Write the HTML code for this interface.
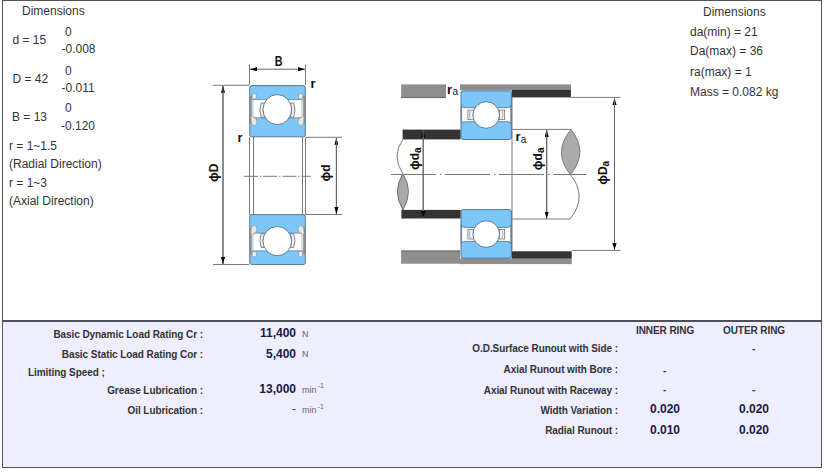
<!DOCTYPE html>
<html><head><meta charset="utf-8">
<style>
html,body{margin:0;padding:0;background:#fff;width:827px;height:472px;overflow:hidden}
body{position:relative;font-family:"Liberation Sans",sans-serif;color:#333}
.t{position:absolute;white-space:pre;line-height:1}
.s12{font-size:12px}
.b10{font-size:10px;font-weight:bold;letter-spacing:-0.07px}
.v{font-size:12px;font-weight:bold;color:#1a1a48}
.u{font-size:9px;color:#666}
#box{position:absolute;left:2px;top:0;width:818px;height:466px;border:1px solid #545458}
#div{position:absolute;left:2px;top:320px;width:820px;height:2px;background:#50505a}
#lav{position:absolute;left:3px;top:322px;width:818px;height:145px;background:#eeeeff}
</style></head><body>
<div id="box"></div>
<div id="lav"></div>
<div id="div"></div>

<!-- left dimensions -->
<div class="t s12" style="left:22px;top:5px">Dimensions</div>
<div class="t s12" style="left:65px;top:25.5px">0</div>
<div class="t s12" style="left:12.5px;top:33.7px">d = 15</div>
<div class="t s12" style="left:61.5px;top:43px">-0.008</div>
<div class="t s12" style="left:65px;top:65px">0</div>
<div class="t s12" style="left:12.5px;top:73px">D = 42</div>
<div class="t s12" style="left:61.5px;top:82px">-0.011</div>
<div class="t s12" style="left:65px;top:102px">0</div>
<div class="t s12" style="left:12px;top:111px">B = 13</div>
<div class="t s12" style="left:61px;top:120px">-0.120</div>
<div class="t s12" style="left:9px;top:140px">r = 1~1.5</div>
<div class="t s12" style="left:9px;top:158px">(Radial Direction)</div>
<div class="t s12" style="left:9px;top:177px">r = 1~3</div>
<div class="t s12" style="left:9px;top:195px">(Axial Direction)</div>

<!-- right dimensions -->
<div class="t s12" style="left:703px;top:5.5px">Dimensions</div>
<div class="t s12" style="left:690px;top:25.5px">da(min) = 21</div>
<div class="t s12" style="left:690px;top:45px">Da(max) = 36</div>
<div class="t s12" style="left:690px;top:65.5px">ra(max) = 1</div>
<div class="t s12" style="left:690px;top:85.6px">Mass = 0.082 kg</div>

<!-- bottom left table -->
<div class="t b10" style="right:624px;top:330px">Basic Dynamic Load Rating Cr :</div>
<div class="t b10" style="right:624px;top:349.5px">Basic Static Load Rating Cor :</div>
<div class="t b10" style="left:28px;top:368px">Limiting Speed ;</div>
<div class="t b10" style="right:624px;top:386px">Grease Lubrication :</div>
<div class="t b10" style="right:624px;top:406px">Oil Lubrication :</div>

<div class="t v" style="right:531px;top:327px">11,400</div>
<div class="t u" style="left:302px;top:329.5px">N</div>
<div class="t v" style="right:531px;top:347.5px">5,400</div>
<div class="t u" style="left:302px;top:349.5px">N</div>
<div class="t v" style="right:531px;top:382.5px">13,000</div>
<div class="t u" style="left:302px;top:385.7px">min<span style="font-size:7px;position:relative;top:-4.5px;margin-left:1.2px">-1</span></div>
<div class="t v" style="right:531px;top:403px;font-weight:normal;color:#333">-</div>
<div class="t u" style="left:302px;top:406.2px">min<span style="font-size:7px;position:relative;top:-4.5px;margin-left:1.2px">-1</span></div>

<!-- bottom right table -->
<div class="t b10" style="left:636px;top:326px">INNER RING</div>
<div class="t b10" style="left:723px;top:326px">OUTER RING</div>
<div class="t b10" style="right:209px;top:344px">O.D.Surface Runout with Side :</div>
<div class="t b10" style="right:209px;top:364.5px">Axial Runout with Bore :</div>
<div class="t b10" style="right:209px;top:385.5px">Axial Runout with Raceway :</div>
<div class="t b10" style="right:209px;top:405.5px">Width Variation :</div>
<div class="t b10" style="right:209px;top:425.5px">Radial Runout :</div>

<div class="t b10" style="left:752px;top:344px">-</div>
<div class="t b10" style="left:663px;top:365.5px">-</div>
<div class="t b10" style="left:663px;top:384.5px">-</div>
<div class="t b10" style="left:752px;top:384.5px">-</div>
<div class="t v" style="left:650px;top:402.5px">0.020</div>
<div class="t v" style="left:739px;top:402.5px">0.020</div>
<div class="t v" style="left:650px;top:423.5px">0.010</div>
<div class="t v" style="left:739px;top:423.5px">0.020</div>

<!-- drawings -->
<svg id="draw" style="position:absolute;left:0;top:0" width="827" height="320" viewBox="0 0 827 320">
<defs>
 <g id="halfL">
  <rect x="0" y="10.8" width="2.3" height="27.6" fill="#8a8a8a"/>
  <path d="M3.6,14.5 V32.6" stroke="#9a9a9a" stroke-width="0.7"/>
  <rect x="3" y="8.2" width="4" height="5.6" rx="1.5" fill="#eee" stroke="#888" stroke-width="0.6"/>
  <path d="M1.4,30.6 L6.4,33.2 L7.9,37.2 L5.4,41.2 L2,38.4 Z" fill="#e6e6e6" stroke="#888" stroke-width="0.6"/>
  <path d="M15.2,17.9 H11.9 Q9.3,25 11.9,32.1 H15.2 Q12.6,25 15.2,17.9 Z" fill="#f0f0f0" stroke="#666" stroke-width="0.8"/>
 </g>
 <g id="brgL">
  <rect x="0.4" y="0.4" width="55.6" height="51.2" rx="2" fill="#7cc6f8" stroke="#3d5f80" stroke-width="0.8"/>
  <rect x="2.2" y="14.4" width="51.9" height="18.2" fill="#fff"/>
  <path d="M3,14.4 H53.3 M3,32.6 H53.3" stroke="#5a7890" stroke-width="0.7" fill="none"/>
  <use href="#halfL"/>
  <use href="#halfL" transform="translate(56.3,0) scale(-1,1)"/>
  <ellipse cx="28" cy="24.4" rx="14.3" ry="15" fill="#fff" stroke="#3d5f80" stroke-width="0.8"/>
 </g>
 <g id="brgR">
  <rect x="0.4" y="0.4" width="50.4" height="48.6" rx="2.2" fill="#7cc6f8" stroke="#3d5f80" stroke-width="0.8"/>
  <path d="M1,15.2 Q1,17.2 5,17.2 H46.2 Q50.2,17.2 50.2,15.2 V33.2 Q50.2,31.2 46.2,31.2 H5 Q1,31.2 1,33.2 Z" fill="#fff" stroke="#3d5f80" stroke-width="0.7"/>
  <path d="M0.4,16 V33 M50.8,16 V33" stroke="#888" stroke-width="0.7"/>
  <rect x="7.3" y="19.6" width="5.4" height="9.6" fill="#f4f4f4" stroke="#666" stroke-width="0.7"/>
  <rect x="38.7" y="19.6" width="5.4" height="9.6" fill="#f4f4f4" stroke="#666" stroke-width="0.7"/>
  <path d="M9.6,20.6 Q8,24.4 9.6,28.2 M41.6,20.6 Q43.2,24.4 41.6,28.2" stroke="#777" stroke-width="0.6" fill="none"/>
  <circle cx="25.6" cy="24.5" r="13.3" fill="#fff" stroke="#3d5f80" stroke-width="0.8"/>
 </g>
 <marker id="ar" viewBox="0 0 10 6" refX="10" refY="3" markerWidth="7" markerHeight="4.2" orient="auto-start-reverse" markerUnits="userSpaceOnUse">
  <path d="M0,0 L10,3 L0,6 z" fill="#000"/>
 </marker>
</defs>

<!-- ===== LEFT DRAWING ===== -->
<g stroke="#7a7a7a" stroke-width="1" fill="none">
 <!-- extension lines for B -->
 <path d="M249.5,64.5 V85 M305.5,64.5 V85"/>
 <!-- bore lines between blocks -->
 <path d="M249.5,137 V215 M253.5,137 V215 M302.5,137 V215 M305.5,137 V215"/>
 <!-- D extension -->
 <path d="M213,85.3 H249 M213,264.5 H249"/>
 <!-- d extension -->
 <path d="M305.5,137.3 H342 M305.5,214.5 H342"/>
</g>
<g stroke="#666" stroke-width="1" fill="none">
 <path d="M250,69.2 H305" marker-start="url(#ar)" marker-end="url(#ar)"/>
 <path d="M223,264 V85.8" marker-end="url(#ar)"/>
 <path d="M223,85.8 V264" marker-end="url(#ar)"/>
 <path d="M336.4,214 V137.8" marker-end="url(#ar)"/>
 <path d="M336.4,137.8 V214" marker-end="url(#ar)"/>
</g>
<path d="M244,176.3 H310.7" stroke="#777" stroke-width="1" stroke-dasharray="14,2,1.2,2" fill="none"/>
<use href="#brgL" x="249.3" y="85.2"/>
<use href="#brgL" transform="translate(249.3,264.9) scale(1,-0.975)"/>
<text transform="translate(278.6,66.2) scale(0.77,1)" font-family="Liberation Sans" font-size="14" font-weight="bold" text-anchor="middle" fill="#111">B</text>
<text x="310.5" y="87.8" font-family="Liberation Sans" font-size="13" font-weight="bold" fill="#111">r</text>
<text x="237.5" y="142.4" font-family="Liberation Sans" font-size="13" font-weight="bold" fill="#111">r</text>
<text transform="translate(217.8,182) rotate(-90)" font-family="Liberation Sans" font-size="12" font-weight="bold" fill="#111"><tspan font-size="13">&#981;</tspan>D</text>
<text transform="translate(329.5,181.4) rotate(-90)" font-family="Liberation Sans" font-size="12" font-weight="bold" fill="#111"><tspan font-size="13">&#981;</tspan>d</text>

<!-- ===== RIGHT DRAWING ===== -->
<!-- housing top -->
<rect x="401.1" y="84.4" width="45" height="13.4" fill="#8e8e8e"/>
<path d="M401.1,97.6 H446" stroke="#555" stroke-width="0.8"/>
<rect x="460" y="84.4" width="111" height="6" fill="#8e8e8e"/>
<rect x="511.7" y="89.9" width="59.2" height="7.5" fill="#333"/>
<!-- housing bottom -->
<rect x="401.1" y="250.7" width="59" height="13" fill="#8e8e8e"/>
<path d="M401.1,250.9 H460" stroke="#555" stroke-width="0.8"/>
<rect x="460" y="258.3" width="111.8" height="5.8" fill="#8e8e8e"/>
<rect x="511.7" y="251.3" width="60" height="7.2" fill="#333"/>
<!-- shaft shoulder -->
<rect x="402.6" y="129.6" width="58" height="9.8" fill="#333"/>
<rect x="401.4" y="209.9" width="59.2" height="8.6" fill="#333"/>
<g stroke="#7a7a7a" stroke-width="1" fill="none">
 <path d="M512,97.4 V251"/>
 <path d="M512,129.4 H571 M512,219 H570"/>
 <path d="M571,97.4 H620.5 M571.8,250.4 H620.5"/>
 <!-- left break -->
 <path d="M403,139.4 Q391,156 403,174"/>
 <path d="M403,174 Q392,191 403,209.9"/>
 <!-- right break -->
 <path d="M570.5,174.6 Q588,197 570,219"/>
</g>
<path d="M403,174 Q392,191 403,209.9 Q414,191 403,174 Z" fill="#aaa" stroke="#666" stroke-width="0.8"/>
<path d="M571,129.4 Q552,152 570.5,174.6 Q589,152 571,129.4 Z" fill="#aaa" stroke="#666" stroke-width="0.8"/>
<path d="M391,174.5 H586.5" stroke="#777" stroke-width="1" stroke-dasharray="45,4,1.5,3.5" fill="none"/>
<g stroke="#666" stroke-width="1" fill="none">
 <path d="M423.2,218 V130.5" marker-end="url(#ar)"/>
 <path d="M423.2,130.5 V218" marker-end="url(#ar)"/>
 <path d="M546.7,218.6 V130" marker-end="url(#ar)"/>
 <path d="M546.7,130 V218.6" marker-end="url(#ar)"/>
 <path d="M614.5,250 V98" marker-end="url(#ar)"/>
 <path d="M614.5,98 V250" marker-end="url(#ar)"/>
</g>
<use href="#brgR" x="460.6" y="90.5"/>
<use href="#brgR" transform="translate(460.6,258.6) scale(1,-1)"/>
<rect x="446" y="84" width="14" height="13" fill="#fff"/>
<text x="447" y="94.2" font-family="Liberation Sans" font-size="13" font-weight="bold" fill="#111">r</text>
<text x="452.6" y="95" font-family="Liberation Sans" font-size="10" fill="#111">a</text>
<text x="515.5" y="140.8" font-family="Liberation Sans" font-size="13" font-weight="bold" fill="#111">r</text>
<text x="520.8" y="142.8" font-family="Liberation Sans" font-size="10" fill="#111">a</text>
<text transform="translate(419,170) rotate(-90)" font-family="Liberation Sans" font-size="12" font-weight="bold" fill="#111"><tspan font-size="13">&#981;</tspan>d<tspan font-size="10" dy="1.5">a</tspan></text>
<text transform="translate(542,170.2) rotate(-90)" font-family="Liberation Sans" font-size="12" font-weight="bold" fill="#111"><tspan font-size="13">&#981;</tspan>d<tspan font-size="10" dy="1.5">a</tspan></text>
<text transform="translate(607.1,184.8) rotate(-90)" font-family="Liberation Sans" font-size="12" font-weight="bold" fill="#111"><tspan font-size="13">&#981;</tspan>D<tspan font-size="10" dy="1.5">a</tspan></text>
</svg>
</body></html>
